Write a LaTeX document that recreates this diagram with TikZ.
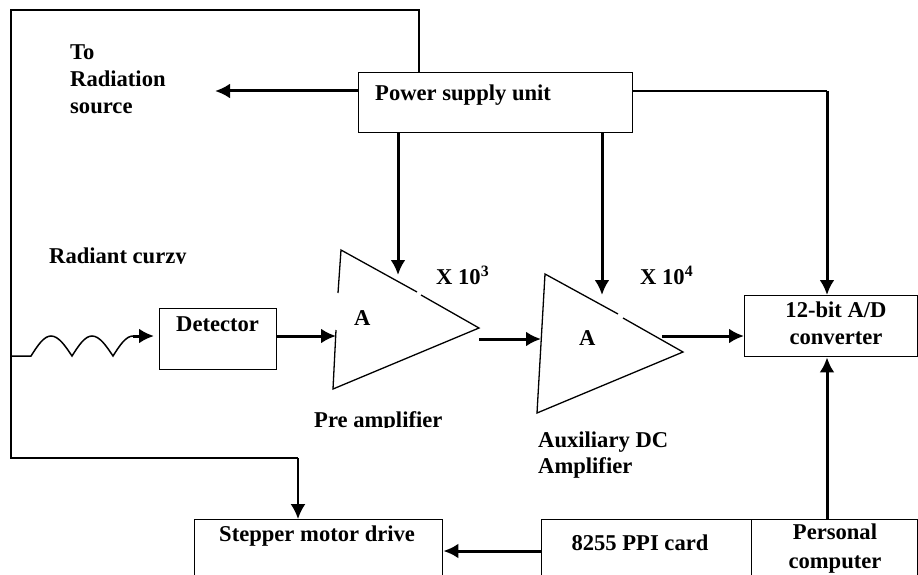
\documentclass[tikz,border=0pt]{standalone}
\usepackage{fontspec}
\setmainfont{Liberation Serif}
\usetikzlibrary{arrows.meta}
\tikzset{Block/.style={draw, line width=1.4pt, inner sep=0pt, anchor=north west},
         Lbl/.style={font=\fontsize{22.6}{27}\selectfont\bfseries, inner sep=0pt, anchor=base west},
         LblC/.style={Lbl, anchor=base},
         Wire/.style={line width=1.5pt},
         Sig/.style={line width=3pt, -{Latex[length=15pt,width=15pt]}},
         Amp/.style={line width=1.3pt}}
\begin{document}
\begin{tikzpicture}[x=1pt,y=-1pt]
    \useasboundingbox (0,0) rectangle (918,575);
    \node[Block, minimum width=274pt, minimum height=60pt] (PSU) at (358,72) {};
    \node[Block, minimum width=117pt, minimum height=61pt] (Det) at (159,308) {};
    \node[Block, minimum width=173pt, minimum height=61pt] (ADC) at (744,295) {};
    \node[Block, minimum width=248pt, minimum height=70pt] (Stepper) at (194,519) {};
    \node[Block, minimum width=210pt, minimum height=70pt] (PPI) at (541,519) {};
    \node[Block, minimum width=166pt, minimum height=70pt] (PC) at (751,519) {};

    \coordinate (A1t) at (341,250);
    \coordinate (A1b) at (333,389);
    \coordinate (A1r) at (479,328);
    \coordinate (A2t) at (545,274);
    \coordinate (A2b) at (537,413);
    \coordinate (A2r) at (683,352);
    \draw[Amp] (338,293) -- (A1t) -- (417,292);
    \draw[Amp] (421,295) -- (A1r) -- (A1b) -- (336,330);
    \draw[Amp] (618,314) -- (A2t) -- (A2b) -- (A2r) -- (623,318);

    \coordinate (F0) at (11,356);
    \coordinate (F1) at (11,10);
    \coordinate (F2) at (419,10);
    \coordinate (F3) at (11,458);
    \coordinate (F4) at (298,458);
    \coordinate (W0) at (31,356);
    \coordinate (W1) at (133,336);
    \coordinate (Src) at (215,91);
    \coordinate (R0) at (827,91);
    \draw[Wire] (F4) -- (F3) -- (F1) -- (F2) -- (F2 |- PSU.north);
    \draw[Wire] (F0) -- (W0) sin (51,336) cos (72,356) sin (92,336) cos (113,356) sin (W1);
    \draw[Wire] (PSU.east |- R0) -- (R0);

    \path[Sig]
      (W1) edge (154,336)
      (Det.east |- 0,336) edge (336,336)
      (A1r |- 0,339) edge (541,339)
      (662,336) edge (ADC.west |- 0,336)
      (PSU.west |- Src) edge (Src)
      (PSU.south -| 398,0) edge (398,275)
      (PSU.south -| 602,0) edge (602,295)
      (R0) edge (R0 |- ADC.north)
      (R0 |- PC.north) edge (R0 |- ADC.south)
      (PPI.west |- 0,551) edge (Stepper.east |- 0,551);
    \draw[Wire, line width=2pt, -{Latex[length=15pt,width=15pt]}] (F4) -- (F4 |- Stepper.north);

    \node[Lbl] (ToL) at (70,60) {To};
    \node[Lbl] (RadL) at (70,87) {Radiation};
    \node[Lbl] (SrcL) at (70,114) {source};
    \node[Lbl] (CurL) at (49,263) {Radiant curzy};
    \node[Lbl] (PsuL) at (375,101) {Power supply unit};
    \node[Lbl] (DetL) at (176,331) {Detector};
    \node[Lbl] (A1L) at (354,325) {A};
    \node[Lbl] (A2L) at (579,345) {A};
    \node[Lbl] (G1L) at (436,284) {X 10\textsuperscript{3}};
    \node[Lbl] (G2L) at (640,284) {X 10\textsuperscript{4}};
    \node[Lbl] (PreL) at (314,427) {Pre amplifier};
    \node[Lbl] (AuxL) at (538,447) {Auxiliary DC};
    \node[Lbl] (AmpL) at (538,473) {Amplifier};
    \node[LblC] (AdcL) at (836,317) {12-bit A/D};
    \node[LblC] (ConL) at (836,344) {converter};
    \node[Lbl] (StpL) at (219,541) {Stepper motor drive};
    \node[LblC] (PpiL) at (640,550) {8255 PPI card};
    \node[LblC] (PerL) at (835,539) {Personal};
    \node[LblC] (CmpL) at (835,568) {computer};
    \fill[white] (45,264) rectangle (200,274);
    \fill[white] (310,428) rectangle (450,438);
\end{tikzpicture}
\end{document}
